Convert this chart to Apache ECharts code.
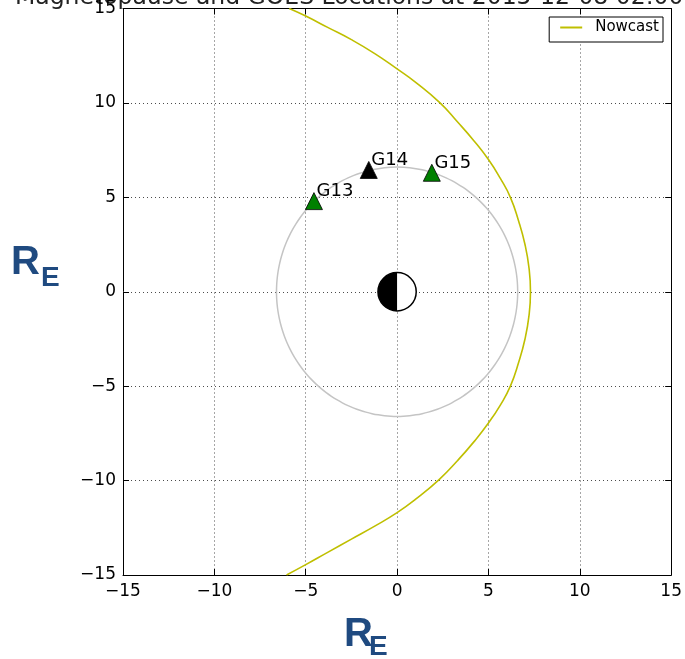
<!DOCTYPE html>
<html>
<head>
<meta charset="utf-8">
<script src="https://cdn.jsdelivr.net/npm/echarts@6/dist/echarts.min.js"></script>
<style>html,body{margin:0;padding:0;background:#fff;}#c{width:685px;height:659px;}</style>
</head>
<body>
<div id="c"></div>
<script>
// Magnetopause (Nowcast) points, in Earth radii
const magX = [-5.9, -5.0, -3.8, -2.5, -1.2, 0.0, 1.0, 2.35, 3.3, 4.2, 5.0, 5.65, 6.2, 6.65, 7.0, 7.22, 7.3, 7.22, 7.0, 6.65, 6.2, 5.65, 5.0, 4.2, 3.3, 2.3, 1.0, 0.0, -1.2, -2.5, -3.8, -5.0, -6.05];
const magY = [15.0, 14.6, 14.0, 13.35, 12.6, 11.8, 11.1, 10.0, 9.0, 8.0, 7.0, 6.0, 5.0, 3.75, 2.5, 1.25, 0.0, -1.25, -2.5, -3.75, -5.0, -6.0, -6.95, -7.95, -8.95, -9.95, -11.0, -11.7, -12.4, -13.1, -13.8, -14.45, -15.0];
// GOES satellites
const satNames = ['G13', 'G14', 'G15'];
const satX = [-4.55, -1.55, 1.9];
const satY = [4.8, 6.45, 6.3];
const satColors = ['#008000', '#000000', '#008000'];
// geostationary orbit radius and Earth radius
const geoRadius = 6.6;
const earthRadius = 1.03;
// ticks
const tickMin = -15, tickMax = 15, tickStep = 5;

const fmt = v => (v < 0 ? '\u2212' + Math.abs(v) : String(v));
const chart = echarts.init(document.getElementById('c'));
const tickFont = { fontFamily: 'DejaVu Sans', fontSize: 17, color: '#000' };
const gridLine = { show: true, lineStyle: { color: '#000', width: 1, type: [1, 3], opacity: 0.7 } };
const frame = { show: true, onZero: false, lineStyle: { color: '#000', width: 1 } };
const tick = { show: true, inside: true, length: 6, lineStyle: { color: '#000', width: 1 } };

function axis(extra) {
  return Object.assign({
    type: 'value', min: tickMin, max: tickMax, interval: tickStep,
    axisLine: frame, axisTick: tick, splitLine: { show: false }
  }, extra);
}

const magData = magX.map((x, i) => [x, magY[i]]);

chart.setOption({
  animation: false,
  grid: { left: 123, top: 8, right: 13, bottom: 84, containLabel: false },
  legend: {
    data: ['Nowcast'], right: 22, top: 17,
    backgroundColor: '#fff', borderColor: '#000', borderWidth: 1, borderRadius: 0,
    padding: [3, 4, 7, 11], icon: 'rect', itemWidth: 22, itemHeight: 2,
    textStyle: { fontFamily: 'DejaVu Sans', fontSize: 15, color: '#000', padding: [0, 0, 0, 8] }
  },
  xAxis: [
    axis({ position: 'bottom', splitLine: gridLine, axisLabel: Object.assign({ margin: 8, formatter: fmt }, tickFont) }),
    axis({ position: 'top', axisLabel: { show: false } })
  ],
  yAxis: [
    axis({ position: 'left', splitLine: gridLine, axisLabel: Object.assign({ margin: 7, formatter: fmt }, tickFont) }),
    axis({ position: 'right', axisLabel: { show: false } })
  ],
  graphic: [
    { type: 'text', left: 15, top: -14, style: { text: 'Magnetopause and GOES Locations at 2015-12-08 02:00', font: '23.5px DejaVu Sans', fill: '#222' } },
    { type: 'text', x: 11, y: 262.5, style: { text: 'R', font: 'bold 40px Liberation Sans', fill: '#1f4a80', verticalAlign: 'middle' } },
    { type: 'text', x: 41, y: 278, style: { text: 'E', font: 'bold 28px Liberation Sans', fill: '#1f4a80', verticalAlign: 'middle' } },
    { type: 'text', x: 344, y: 634.5, style: { text: 'R', font: 'bold 40px Liberation Sans', fill: '#1f4a80', verticalAlign: 'middle' } },
    { type: 'text', x: 369, y: 647, style: { text: 'E', font: 'bold 28px Liberation Sans', fill: '#1f4a80', verticalAlign: 'middle' } }
  ],
  series: [
    {
      type: 'custom', name: 'geo', clip: true, z: 2,
      data: [[0, 0, geoRadius]],
      renderItem: function (params, api) {
        const r = api.value(2);
        const pts = [];
        for (let a = 0; a <= 360; a += 3) {
          const t = a * Math.PI / 180;
          pts.push(api.coord([r * Math.cos(t), r * Math.sin(t)]));
        }
        return { type: 'polyline', shape: { points: pts, smooth: 0.3 }, style: { stroke: '#c4c4c4', lineWidth: 1.5, fill: null } };
      }
    },
    {
      type: 'line', name: 'Nowcast', data: magData, smooth: 0.5, showSymbol: false, clip: true, z: 3,
      lineStyle: { color: '#bfbf00', width: 1.6 }, itemStyle: { color: '#bfbf00' }
    },
    {
      type: 'custom', name: 'earth', z: 4,
      data: [[0, 0, earthRadius]],
      renderItem: function (params, api) {
        const c = api.coord([0, 0]);
        const s = api.size([api.value(2), api.value(2)]);
        const r = (s[0] + s[1]) / 2;
        return {
          type: 'group', children: [
            { type: 'circle', shape: { cx: c[0], cy: c[1], r: r }, style: { fill: '#fff', stroke: null } },
            { type: 'sector', shape: { cx: c[0], cy: c[1], r0: 0, r: r, startAngle: Math.PI / 2, endAngle: Math.PI * 3 / 2, clockwise: true }, style: { fill: '#000' } },
            { type: 'circle', shape: { cx: c[0], cy: c[1], r: r }, style: { fill: null, stroke: '#000', lineWidth: 1.5 } }
          ]
        };
      }
    },
    {
      type: 'scatter', name: 'GOES', symbol: 'triangle', symbolSize: 17, z: 5,
      data: satNames.map((n, i) => ({ name: n, value: [satX[i], satY[i]], itemStyle: { color: satColors[i], borderColor: '#000', borderWidth: 0.8, opacity: 1 } })),
      itemStyle: { opacity: 1 },
      label: {
        show: true, formatter: '{b}', position: [11.5, -0.5], align: 'left', verticalAlign: 'middle',
        fontFamily: 'DejaVu Sans', fontSize: 18, color: '#000'
      }
    }
  ]
});
</script>
</body>
</html>
